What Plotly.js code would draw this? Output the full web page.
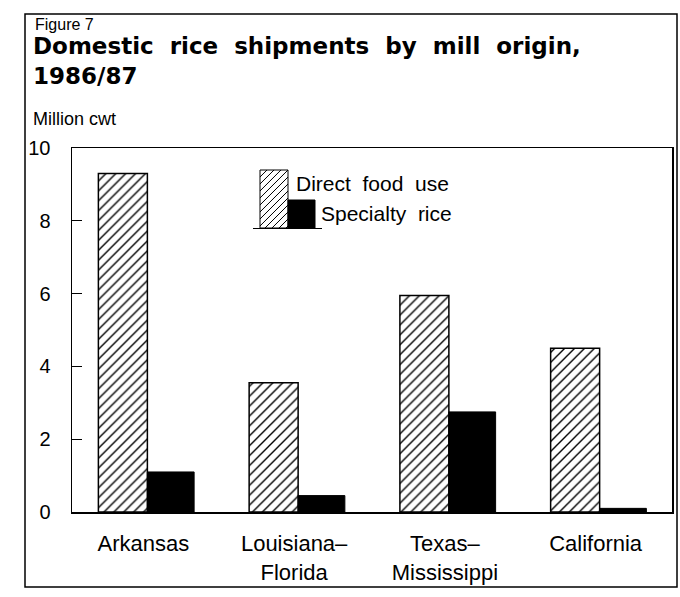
<!DOCTYPE html>
<html><head><meta charset="utf-8">
<script src="https://cdn.plot.ly/plotly-3.0.1.min.js"></script>
<style>html,body{margin:0;padding:0;background:#fff}#chart{width:680px;height:597px}</style>
</head><body><div id="chart"></div>
<script>
const categories = ["Arkansas", "Louisiana–<br>Florida", "Texas–<br>Mississippi", "California"];
const directFood = [9.3, 3.55, 5.95, 4.5];
const specialty = [1.1, 0.45, 2.75, 0.1];
const yTicks = [0, 2, 4, 6, 8, 10];
const seriesNames = ["Direct food use", "Specialty rice"];
const titleLines = ["Domestic rice shipments by mill origin,", "1986/87"];

const W = 680, H = 597, L = 72, R = 672, T = 148, B = 512;
const px2x = p => (p - L) / (R - L);
const px2y = p => (B - p) / (B - T);
const FONT = "Liberation Sans, Arial, Helvetica, sans-serif";
const TITLEFONT = "DejaVu Sans, Verdana, sans-serif";

function hatchPath(x0, x1, y0, y1, step) {
  let d = "";
  for (let c = x0 + y0; c <= x1 + y1; c += step) {
    const xa = Math.max(x0, c - y1), xb = Math.min(x1, c - y0);
    if (xb > xa) {
      d += "M" + px2x(xa).toFixed(4) + "," + px2y(c - xa).toFixed(4) +
           "L" + px2x(xb).toFixed(4) + "," + px2y(c - xb).toFixed(4);
    }
  }
  return d;
}

const traces = [
  {
    type: "bar", name: seriesNames[0], x: categories, y: directFood,
    offset: -0.325, width: 0.325,
    marker: {color: "#fff", line: {color: "#000", width: 1.5},
             pattern: {shape: "/", fgcolor: "#000", bgcolor: "#fff", size: 7, solidity: 0.2}},
    hoverinfo: "skip"
  },
  {
    type: "bar", name: seriesNames[1], x: categories, y: specialty,
    offset: 0, width: 0.31,
    marker: {color: "#000", line: {color: "#000", width: 1}},
    hoverinfo: "skip"
  }
];

const shapes = [
  {type: "rect", xref: "paper", yref: "paper", x0: px2x(25), x1: px2x(677), y0: px2y(14), y1: px2y(587),
   line: {color: "#000", width: 1.5}, layer: "below"},
  {type: "rect", xref: "paper", yref: "paper", x0: px2x(260), x1: px2x(288), y0: px2y(170), y1: px2y(228),
   line: {color: "#000", width: 1}, fillcolor: "#fff"},
  {type: "path", xref: "paper", yref: "paper", path: hatchPath(260, 288, 170, 228, 7),
   line: {color: "#000", width: 1}},
  {type: "rect", xref: "paper", yref: "paper", x0: px2x(288), x1: px2x(315), y0: px2y(200), y1: px2y(228),
   line: {color: "#000", width: 1}, fillcolor: "#000"},
  {type: "line", xref: "paper", yref: "paper", x0: px2x(253), x1: px2x(322), y0: px2y(228.5), y1: px2y(228.5),
   line: {color: "#000", width: 1}}
];

const ann = (text, x, y, size, bold, family) => ({
  text: bold ? "<b>" + text + "</b>" : text, xref: "paper", yref: "paper",
  x: px2x(x), y: px2y(y), xanchor: "left", yanchor: "middle", align: "left", showarrow: false,
  font: {family: family || FONT, size: size, color: "#000"}
});

const wide = s => s.replace(/ /g, "\u00a0 ");

const annotations = [
  ann("Figure 7", 33, 24, 16, false),
  ann(wide(titleLines[0]) + "<br>" + titleLines[1], 31, 61, 23, true, TITLEFONT),
  ann("Million cwt", 31, 119, 18, false),
  ann(wide(seriesNames[0]), 294, 183, 21, false),
  ann(wide(seriesNames[1]), 319, 213, 21, false)
];

const layout = {
  width: W, height: H,
  margin: {l: L, r: W - R, t: T, b: H - B},
  paper_bgcolor: "#fff", plot_bgcolor: "#fff",
  showlegend: false, barmode: "overlay",
  font: {family: FONT, color: "#000"},
  xaxis: {
    type: "category", range: [-0.5, 3.48], showline: true, mirror: true,
    linecolor: "#000", linewidth: 1.5, ticks: "", showgrid: false, zeroline: false,
    tickfont: {family: FONT, size: 22, color: "#000"}, ticklabelstandoff: 11, ticklabelshift: -4
  },
  yaxis: {
    range: [0, 10], tickvals: yTicks, ticktext: yTicks.map(String),
    ticks: "inside", ticklen: 10, tickwidth: 1.2, tickcolor: "#000",
    showline: true, mirror: true, linecolor: "#000", linewidth: 1.5,
    showgrid: false, zeroline: false,
    tickfont: {family: FONT, size: 20, color: "#000"}, ticklabelstandoff: 16
  },
  shapes: shapes,
  annotations: annotations
};

Plotly.newPlot("chart", traces, layout, {staticPlot: true, displayModeBar: false});
</script>
</body></html>
